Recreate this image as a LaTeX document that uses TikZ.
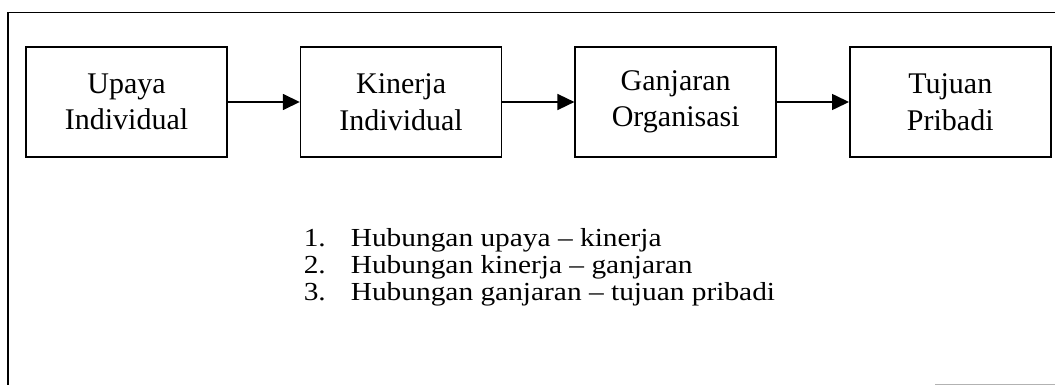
\documentclass[tikz,border=0pt]{standalone}
\usepackage{fontspec}
\setmainfont{Liberation Serif}
\usepackage{graphicx}
\usetikzlibrary{%
        calc,
        math,
        positioning, % 相对位置
        arrows.meta, % 箭头样式
    }
% 列表的一行
\newcommand{\listline}[2]{\scalebox{1.13}[1]{\makebox[41.6pt][l]{#1}#2}}

\begin{document}
\begin{tikzpicture}[x=1pt, y=-1pt, line width=1.6pt]
    \tikzmath{%
        % 方框
        \widthbox=201;
        \heightbox=110;
        \gapbox=72;
        % 列表
        \dyitem=27;
    };

    \tikzset{%
        stage/.style={draw, minimum width=\widthbox pt, minimum height=\heightbox pt, inner sep=0pt, align=center, font=\fontsize{30}{36.5}\selectfont},
        flow/.style={-{Triangle[length=17pt, width=16pt]}},
        item/.style={anchor=base west, inner sep=0pt, font=\fontsize{26}{27}\selectfont},
    }

    \useasboundingbox (0, 0) rectangle (1055, 385);

    % frame
    \draw (8, 385) -- (8, 12.5) -- (1055, 12.5);
    \draw [gray!60, line width=1pt] (935, 384) -- (1055, 384);

    % boxes
    \node (upaya) [stage] at (126.5, 102) {Upaya\\Individual};
    \node (kinerja) [stage, right=\gapbox pt of upaya] {Kinerja\\Individual};
    \node (ganjaran) [stage, right=\gapbox pt of kinerja] {Ganjaran\\Organisasi};
    \node (tujuan) [stage, right=\gapbox pt of ganjaran] {Tujuan\\Pribadi};

    % arrows
    \draw [flow] (upaya) -- (kinerja);
    \draw [flow] (kinerja) -- (ganjaran);
    \draw [flow] (ganjaran) -- (tujuan);

    % list
    \node (item1) [item] at (303, 246.5) {\listline{1.}{Hubungan upaya – kinerja}};
    \node (item2) [item] at ($ (item1.base west) + (0, \dyitem) $) {\listline{2.}{Hubungan kinerja – ganjaran}};
    \node (item3) [item] at ($ (item2.base west) + (0, \dyitem) $) {\listline{3.}{Hubungan ganjaran – tujuan pribadi}};
\end{tikzpicture}
\end{document}
